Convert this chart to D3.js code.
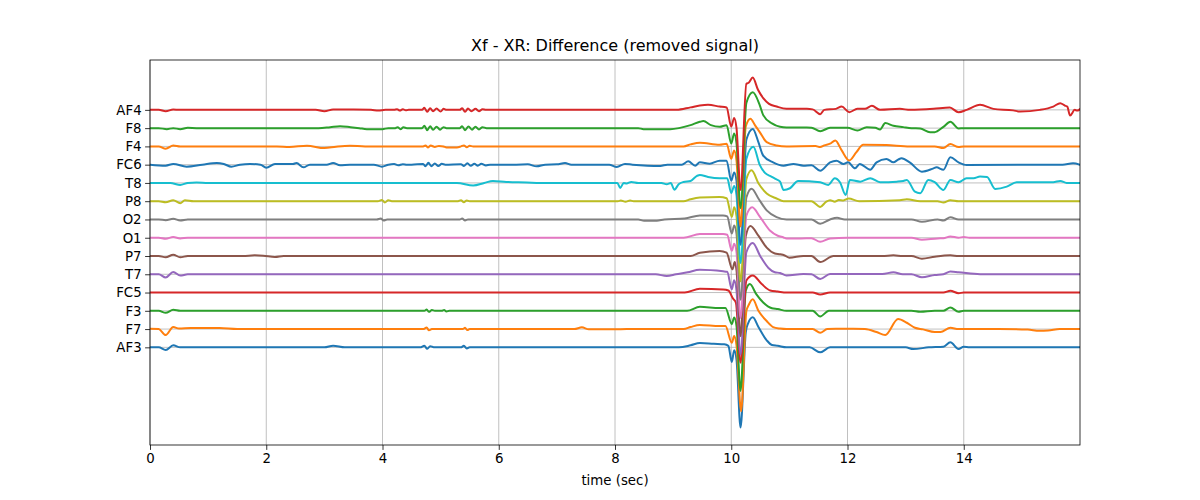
<!DOCTYPE html>
<html><head><meta charset="utf-8">
<script src="https://cdn.jsdelivr.net/npm/d3@7"></script>
<style>body{margin:0;background:#fff}svg{display:block}</style>
</head><body><svg id="c" width="1200" height="500"></svg>
<script>
// ---- data (time in sec, deviation in display units; channel spacing below) ----
const channels = ["AF3","F7","F3","FC5","T7","P7","O1","O2","P8","T8","FC6","F4","F8","AF4"];
const colors = ["#1f77b4","#ff7f0e","#2ca02c","#d62728","#9467bd","#8c564b","#e377c2","#7f7f7f","#bcbd22","#17becf","#1f77b4","#ff7f0e","#2ca02c","#d62728"];
const xTicks = [0,2,4,6,8,10,12,14];
const spacing = 18.23;
const tMax = 16;
const titleText = "Xf - XR: Difference (removed signal)";
const xLabel = "time (sec)";

const AF3 = [[0,0],[0.15,0],[0.27,-2.7],[0.4,2],[0.52,0],[3.0,0],[3.15,1.7],[3.35,0],
[4.65,0],[4.72,1.5],[4.77,-1.5],[4.82,1.2],[4.88,0],[5.35,0],[5.4,1.5],[5.45,-1.2],[5.5,0],
[9.1,0],[9.3,2],[9.46,4.3],[9.7,3.5],[9.88,3],[9.95,1.5],[10.01,-14.7],[10.05,-3],[10.09,-12],[10.16,-80],[10.25,15],[10.29,24],[10.37,30],[10.47,20],[10.61,7],[10.7,2.3],[10.8,1.5],[10.95,0],
[11.35,0],[11.53,-5],[11.7,0],[13.0,0],[13.13,-1.7],[13.4,0],[13.65,0.7],[13.77,5],[13.91,-1.7],[14.0,0.6],[14.1,0],[16,0]];

const F7 = [[0,0.3],[0.15,0],[0.27,-6],[0.4,2],[0.5,0.5],[0.7,1],[1.2,1],[1.5,0],
[4.7,0],[4.76,1.5],[4.8,-1.3],[4.85,0],[5.38,0],[5.42,1.2],[5.46,-1],[5.5,0],
[7.3,0],[7.43,1.7],[7.55,-0.3],[8.0,-0.3],[8.2,0],
[9.18,0],[9.3,2],[9.46,4],[9.8,3],[9.9,3],[10.01,-13.7],[10.05,-7],[10.09,-16],[10.17,-82],[10.26,18],[10.3,24],[10.37,29.7],[10.47,18],[10.61,8],[10.72,2],[10.84,0.5],[10.95,0],
[11.4,0],[11.53,-3.7],[11.65,0],[11.8,0.3],[12.1,0.3],[12.3,0],[12.5,-3],[12.65,-6],[12.87,10],[13.02,6.3],[13.16,1.3],[13.3,-0.3],[13.5,-3],[13.6,-3],[13.77,1.3],[13.91,0],[14.6,0],[15.1,-0.5],[15.3,-1.7],[15.45,-1.5],[15.65,0],[16,0]];

const F3 = [[0,0],[0.15,0],[0.27,-2],[0.4,1],[0.52,0],
[4.72,0],[4.76,1.2],[4.8,-1],[4.85,0.8],[4.9,0],[5.02,0],[5.06,0.8],[5.1,-0.6],[5.15,0],
[9.24,0],[9.46,4],[9.8,2.7],[9.9,2.7],[10.01,-13.3],[10.05,-6.7],[10.09,-15],[10.16,-80],[10.25,20],[10.32,26.7],[10.43,16.7],[10.55,8.3],[10.7,2.5],[10.8,1.7],[10.95,0],
[11.4,0],[11.53,-5.7],[11.68,0],[13.1,0],[13.25,-1],[13.5,0],[13.65,0],[13.77,3.3],[13.91,-1],[14.0,0],[16,0]];

const FC5 = [[0,0],[9.2,0],[9.46,3.7],[9.86,3],[9.95,2],[10.03,-6],[10.08,-10],[10.16,-70],[10.26,12],[10.37,17],[10.52,8.7],[10.67,2],[10.8,1],[10.95,0],
[11.4,0],[11.53,-2],[11.7,0],[13.65,0],[13.77,1.7],[13.91,-0.7],[14.0,0],[16,0]];

const T7 = [[0,0],[0.15,0],[0.27,-3.3],[0.4,2.3],[0.52,-1.3],[0.65,0],
[8.7,0],[8.89,-1.7],[9.05,0],[9.25,2],[9.46,4.5],[9.86,3],[9.93,2.5],[10.01,-15],[10.05,-6],[10.09,-16],[10.16,-80],[10.26,22],[10.37,31.3],[10.5,18],[10.64,6.3],[10.75,2],[10.84,1.3],[10.95,-1.3],[11.24,0.3],[11.38,0],[11.53,-4.7],[11.7,0.3],[12.6,0.3],[12.79,2],[12.95,0],[13.1,0],[13.28,-3],[13.5,-0.7],[13.65,0],[13.77,2.7],[13.91,2],[14.28,0],[16,0]];

const P7 = [[0,0],[0.15,0],[0.27,-1.3],[0.4,1.3],[0.52,-1.3],[0.65,0],[1.6,0],[1.8,0.7],[1.95,0.3],[2.15,-1],[2.3,0],
[9.3,0],[9.46,3.3],[9.8,5],[9.92,3.3],[10.02,-13.3],[10.06,-6],[10.09,-14],[10.16,-80],[10.25,20],[10.33,30],[10.47,20],[10.61,8.3],[10.75,2.5],[10.84,1.7],[10.92,0.5],[11.0,-1.7],[11.24,0],[11.38,0],[11.53,-6],[11.76,0],[12.6,0],[12.79,0.7],[12.95,0],[13.1,0],[13.28,-2.7],[13.5,-0.7],[13.77,0.7],[13.91,0],[16,0]];

const O1 = [[0,0],[0.15,0],[0.27,-1],[0.4,0.7],[0.52,-0.7],[0.65,0],
[9.18,0],[9.46,3.7],[9.86,3.7],[9.93,3],[10.01,-13],[10.05,-6],[10.09,-14],[10.16,-80],[10.26,22],[10.36,30.3],[10.5,20.3],[10.67,7],[10.8,2],[10.9,0.3],[10.95,-0.7],[11.2,-0.7],[11.38,-0.5],[11.53,-4],[11.7,-0.7],[12.0,0],[13.1,0],[13.28,-2],[13.55,-0.7],[13.65,-0.5],[13.77,1.3],[13.91,0],[14.0,0.7],[14.1,0],[16,0]];

const O2 = [[0,0],[0.15,0],[0.27,-0.7],[0.4,0.7],[0.52,-1],[0.65,0],[3.9,0],[3.97,1],[4.02,-1],[4.08,0],[5.33,0],[5.37,1],[5.42,-1],[5.47,0],
[8.4,0],[8.5,-1.3],[8.72,-1.3],[8.85,0],[9.2,1],[9.46,4],[9.86,4],[9.93,3],[10.01,-14],[10.05,-6],[10.09,-14],[10.16,-80],[10.26,22],[10.35,30.7],[10.47,20.7],[10.61,9],[10.78,2.3],[10.95,0],[11.38,0],[11.53,-4.3],[11.7,0],[11.82,1.7],[11.95,0],[13.1,0],[13.28,-2.3],[13.55,0],[13.65,-1],[13.77,2.3],[13.91,0],[16,0]];

const P8 = [[0,0],[0.15,0],[0.27,-1],[0.4,1],[0.52,-2],[0.6,1],[0.75,0],[3.92,0],[3.99,1.3],[4.04,-1.3],[4.1,1],[4.16,0],[5.3,0],[5.35,1],[5.4,-1],[5.45,0.8],[5.5,0],
[8.05,0],[8.1,0.7],[8.18,-0.5],[8.26,0.7],[8.32,0],[9.18,0],[9.3,2],[9.46,3.7],[9.8,4.3],[9.92,3],[10.01,-15.7],[10.05,-6],[10.09,-15],[10.16,-80],[10.26,22],[10.35,31],[10.47,17.7],[10.61,7.7],[10.78,2.7],[10.9,0],[11.38,0],[11.53,-5.7],[11.63,-0.7],[11.7,1],[11.78,-0.5],[11.85,1.2],[11.93,0.8],[12.02,2.7],[12.2,0],[12.9,1],[13.02,2],[13.25,0],[13.55,0],[13.65,-1.3],[13.77,1],[13.91,0],[16,0]];

const T8 = [[0,0],[0.35,0],[0.52,-2],[0.65,0],[0.8,0.5],[1.0,0],
[5.28,0],[5.56,-2.5],[5.75,0],[5.9,2],[6.13,1],[6.48,0.5],[6.71,0],
[8.04,0],[8.09,-5],[8.15,0],[8.2,-0.5],[8.28,1],[8.4,0],[8.8,0],[8.89,-1.3],[8.96,0],[9.02,-6.7],[9.1,-1],[9.18,1],[9.3,2],[9.41,7],[9.46,8],[9.6,6],[9.8,4.7],[9.93,4.7],[10.0,-10],[10.05,-3],[10.09,-12],[10.16,-80],[10.26,24],[10.38,36],[10.49,18],[10.58,10],[10.69,6.3],[10.76,4],[10.84,1.3],[10.9,-7],[11.01,-5.3],[11.15,2],[11.53,0.7],[11.67,-2],[11.78,4.7],[11.87,0.7],[11.97,-12],[12.04,3],[12.22,1.3],[12.39,4.7],[12.56,0.7],[12.85,1.3],[12.96,2],[13.02,3],[13.16,-8.7],[13.25,-10.3],[13.39,3],[13.5,0.7],[13.65,-7],[13.77,3],[13.91,0.7],[14.05,4.7],[14.17,4.7],[14.28,6.3],[14.4,6],[14.54,-6],[14.74,-3.7],[14.91,0.7],[15.54,0.7],[15.66,2],[15.77,0],[16,0]];

const FC6 = [[0,0],[0.27,-1],[0.4,0.7],[0.63,-2],[0.9,0],[1.15,1.7],[1.27,0.7],[1.4,-2],[1.55,0],[1.72,0.7],[1.9,0],[2.0,-3],[2.15,0.7],[2.46,0.7],[2.52,1.7],[2.64,-2.7],[2.75,0],[3.04,0],[3.15,1.7],[3.27,-0.7],[3.44,0],
[3.85,0],[3.99,-2],[4.1,0],[4.2,0.7],[4.27,-0.7],[4.35,0.5],[4.42,0],[4.5,0],[4.7,0.7],[4.74,-1.5],[4.79,1.8],[4.84,-1.5],[4.9,1.2],[4.96,-1.3],[5.02,0.8],[5.08,0],[5.35,0.5],[5.4,-1.3],[5.46,1.3],[5.52,-1.2],[5.58,1],[5.64,-1],[5.7,0.8],[5.78,-0.8],[5.85,0],[6.3,0],[6.5,0.3],[6.65,-1.7],[6.8,0],[7.0,0.3],[7.14,1.7],[7.25,0],[7.9,0],[8.03,-2.3],[8.17,0.7],[8.3,0],[8.78,-1.3],[8.9,0],[9.15,0],[9.26,3.3],[9.38,-1],[9.46,2.3],[9.63,1],[9.8,4],[9.92,4],[10.0,-16],[10.05,-7.7],[10.09,-16],[10.16,-80],[10.26,25],[10.37,35.7],[10.47,22],[10.55,9],[10.72,2.3],[10.9,-1],[11.07,0.7],[11.24,-1],[11.38,-0.5],[11.53,-6],[11.7,2.3],[11.81,4],[11.93,0.7],[12.01,2.3],[12.13,-3.7],[12.21,0.7],[12.39,-5],[12.5,2.3],[12.67,5.7],[12.79,2.3],[12.87,5],[12.93,6.3],[13.07,2.3],[13.28,-7],[13.48,-3.7],[13.53,-2.7],[13.65,-5],[13.77,7.3],[13.91,2.3],[14.05,-0.3],[15.7,0],[15.88,1.3],[16,0]];

const F4 = [[0,0],[0.15,0],[0.27,-2.3],[0.4,1],[0.52,0],[2.18,0],[2.4,-0.5],[2.7,0.7],[3.0,-1.7],[3.2,-0.3],[3.44,0.7],[3.7,0],
[4.7,0],[4.74,1],[4.78,-1],[4.83,0.8],[4.9,-0.5],[4.97,0.5],[5.05,0],[5.1,-1],[5.28,-1],[5.35,0],[5.4,1],[5.45,-0.8],[5.5,0.6],[5.56,0],
[9.18,0],[9.3,2],[9.46,3.7],[9.8,1.7],[9.92,2.7],[10.0,-12.3],[10.05,-4],[10.09,-14],[10.16,-80],[10.25,20],[10.33,27.7],[10.41,21],[10.49,14.3],[10.61,4.3],[10.78,1],[10.95,0],[11.45,0.3],[11.53,-0.7],[11.6,1],[11.7,2.7],[11.79,6],[11.9,-4],[12.03,-14],[12.15,-6],[12.27,1.7],[12.67,1.3],[13.07,0],[13.5,0],[13.65,-1.7],[13.77,2.3],[13.91,-0.7],[14.0,0],[16,0]];

const F8 = [[0,0],[0.15,0],[0.29,-1],[0.4,0],[0.52,-1],[0.65,0.3],[0.8,0],[2.9,0],[3.1,1],[3.27,2],[3.45,1],[3.6,0],[3.73,-1],[4.0,-1],[4.1,0],
[4.22,0],[4.26,1],[4.31,-1],[4.36,0.8],[4.42,0],[4.68,0],[4.72,2.3],[4.77,-2],[4.82,2],[4.87,-1.7],[4.93,1.5],[4.99,-1.5],[5.05,1],[5.1,0],[5.33,0],[5.37,2],[5.42,-2],[5.48,1.7],[5.54,-1.5],[5.6,1.5],[5.66,-1.3],[5.72,1],[5.79,0],
[8.4,0],[8.49,-1],[8.95,-1],[9.1,0],[9.3,3],[9.46,6.3],[9.52,7],[9.65,3],[9.8,1.3],[9.92,3],[10.0,-15.3],[10.05,-5.3],[10.09,-15],[10.16,-80],[10.26,25],[10.37,35.7],[10.49,23],[10.55,13],[10.7,4.7],[10.84,1.3],[10.95,0.7],[11.3,0.7],[11.38,0.5],[11.53,-3],[11.7,0.3],[12.0,0.3],[12.17,-2.3],[12.33,1],[12.48,0.3],[12.56,-1.3],[12.65,5],[12.79,2.3],[12.96,1],[13.1,0],[13.25,-0.3],[13.42,-4],[13.5,-4],[13.65,1.3],[13.77,6.3],[13.91,-0.3],[14.0,0],[16,0]];

const AF4 = [[0,0],[0.15,0],[0.27,-1.3],[0.4,0.3],[0.5,0],[2.85,0],[3.0,-1.3],[3.15,0.3],[3.5,0.3],[3.8,0],[3.93,-0.7],[4.05,0],
[4.2,0],[4.25,0.7],[4.3,-0.7],[4.35,0.7],[4.4,-0.5],[4.45,0],[4.68,0],[4.72,2],[4.77,-2],[4.82,1.7],[4.87,-1.5],[4.93,1.3],[5.0,-1.7],[5.05,1],[5.1,0],[5.33,0],[5.37,1.7],[5.42,-2],[5.47,1.3],[5.53,-1.3],[5.6,1],[5.66,-1.3],[5.72,0.7],[5.78,0],
[9.06,0],[9.3,2.5],[9.46,4.3],[9.6,5],[9.8,3.3],[9.92,2.3],[10.0,-16.7],[10.05,-8],[10.09,-18],[10.16,-80],[10.26,26],[10.3,27],[10.37,32.3],[10.46,20],[10.55,11.7],[10.65,6],[10.78,3.3],[10.95,1],[11.3,1],[11.4,0.5],[11.53,-4.3],[11.6,0],[11.8,1],[11.9,3.3],[12.03,-2.3],[12.17,1],[12.3,1],[12.42,4],[12.56,0],[12.9,1],[13.08,0],[13.48,1],[13.76,2.3],[13.91,-2.3],[14.05,0],[14.28,5],[14.51,1],[14.85,-0.5],[14.97,-1.7],[15.31,0],[15.54,3.3],[15.66,6.7],[15.74,4.3],[15.78,3.3],[15.83,-5.7],[15.91,0],[15.95,-0.7],[16,0.7]];

const signals = {AF3,F7,F3,FC5,T7,P7,O1,O2,P8,T8,FC6,F4,F8,AF4};

// ---- layout ----
const pL = 150, pR = 1080, pT = 60, pB = 445;
const font = "DejaVu Sans, Verdana, sans-serif";
const svg = d3.select("#c");

const x = d3.scaleLinear().domain([0, tMax]).range([pL, pR]);
const series = channels.map((name, i) => ({
  name, color: colors[i], offset: i * spacing,
  pts: signals[name].map(([t, v]) => [t, i * spacing + v])
}));
const allY = series.flatMap(s => s.pts.map(p => p[1]));
const [ymin, ymax] = d3.extent(allY);
const pad = (ymax - ymin) * 0.05;
const y = d3.scaleLinear().domain([ymin - pad, ymax + pad]).range([pB, pT]);

// grid
const g = svg.append("g");
g.selectAll("line.vg").data(xTicks).join("line")
  .attr("x1", d => x(d)).attr("x2", d => x(d)).attr("y1", pT).attr("y2", pB)
  .attr("stroke", "#b0b0b0").attr("stroke-width", 0.8);
g.selectAll("line.hg").data(series).join("line")
  .attr("x1", pL).attr("x2", pR).attr("y1", d => y(d.offset)).attr("y2", d => y(d.offset))
  .attr("stroke", "#b0b0b0").attr("stroke-width", 0.8);

// lines
svg.append("clipPath").attr("id", "clp").append("rect")
  .attr("x", pL).attr("y", pT).attr("width", pR - pL).attr("height", pB - pT);
const line = d3.line().x(d => x(d[0])).y(d => y(d[1])).curve(d3.curveMonotoneX);
svg.append("g").attr("clip-path", "url(#clp)").selectAll("path").data(series).join("path")
  .attr("d", d => line(d.pts)).attr("fill", "none").attr("stroke", d => d.color)
  .attr("stroke-width", 2).attr("stroke-linejoin", "round").attr("stroke-linecap", "square");

// frame
svg.append("rect").attr("x", pL).attr("y", pT).attr("width", pR - pL).attr("height", pB - pT)
  .attr("fill", "none").attr("stroke", "#000").attr("stroke-width", 0.8);

// x axis
const xa = svg.append("g").attr("transform", `translate(0,${pB})`)
  .call(d3.axisBottom(x).tickValues(xTicks).tickFormat(d3.format("d")).tickSize(4.9).tickPadding(3.5));
xa.select(".domain").remove();
xa.selectAll("line").attr("stroke", "#000").attr("stroke-width", 0.8);
xa.selectAll("text").attr("font-family", font).attr("font-size", "13.33px").attr("fill", "#000");

// y axis
const ya = svg.append("g").attr("transform", `translate(${pL},0)`)
  .call(d3.axisLeft(y).tickValues(series.map(s => s.offset)).tickFormat((d, i) => channels[i]).tickSize(4.9).tickPadding(3.5));
ya.select(".domain").remove();
ya.selectAll("line").attr("stroke", "#000").attr("stroke-width", 0.8);
ya.selectAll("text").attr("font-family", font).attr("font-size", "13.33px").attr("fill", "#000");

// title and label
svg.append("text").attr("x", (pL + pR) / 2).attr("y", 51).attr("text-anchor", "middle")
  .attr("font-family", font).attr("font-size", "16px").attr("fill", "#000").text(titleText);
svg.append("text").attr("x", (pL + pR) / 2).attr("y", 485).attr("text-anchor", "middle")
  .attr("font-family", font).attr("font-size", "13.33px").attr("fill", "#000").text(xLabel);
</script></body></html>
